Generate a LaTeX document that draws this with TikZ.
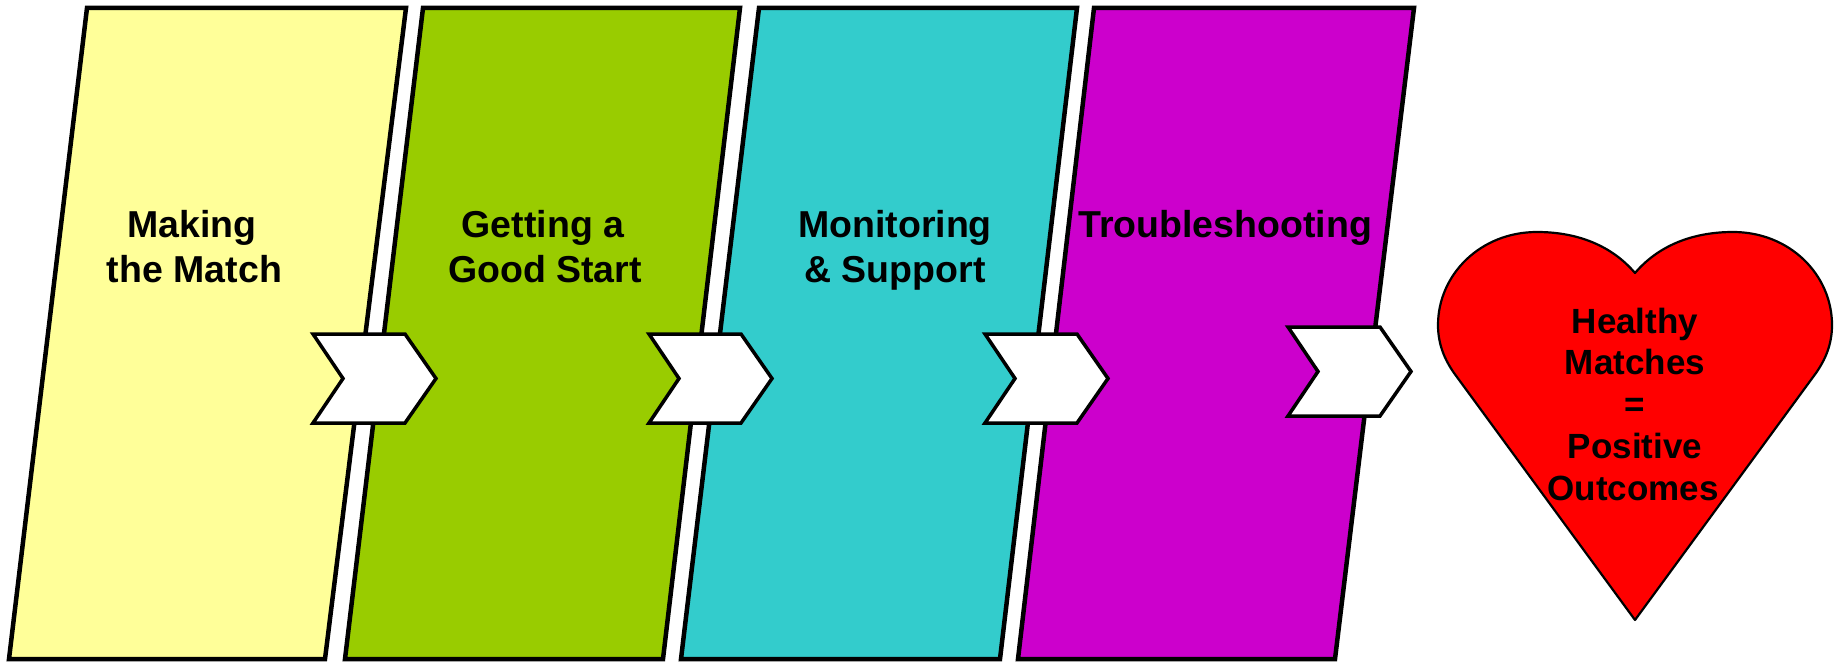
\documentclass[tikz,border=0pt]{standalone}
\usepackage{fontspec}
\setmainfont{Liberation Sans}
\definecolor{stageA}{HTML}{FFFF99}
\definecolor{stageB}{HTML}{99CC00}
\definecolor{stageC}{HTML}{33CCCC}
\definecolor{stageD}{HTML}{CC00CC}
\definecolor{heartred}{HTML}{FF0000}
\begin{document}
\begin{tikzpicture}[x=1pt,y=-1pt,
  stage/.style={draw=black, line width=4.5pt, line join=miter},
  chev/.style={draw=black, fill=white, line width=3.5pt, line join=miter},
  lbl/.style={font=\fontsize{37.5}{44}\selectfont\bfseries, anchor=base, inner sep=0pt},
  hlbl/.style={font=\fontsize{35}{41}\selectfont\bfseries, anchor=base, inner sep=0pt}]

\useasboundingbox (0,0) rectangle (1845,663);

% slanted stage panels
\draw[stage, fill=stageA] (87,8) -- (406,8) -- (325,659) -- (9,659) -- cycle;
\draw[stage, fill=stageB] (423,8) -- (740,8) -- (663,659) -- (345,659) -- cycle;
\draw[stage, fill=stageC] (759,8) -- (1077,8) -- (1000,659) -- (681,659) -- cycle;
\draw[stage, fill=stageD] (1094,8) -- (1414,8) -- (1335,659) -- (1018,659) -- cycle;

% stage titles
\node[lbl] (t1a) at (192,238) {Making};
\node[lbl] (t1b) at (194.5,282) {the Match};
\node[lbl] (t2a) at (543,238) {Getting a};
\node[lbl] (t2b) at (545,282) {Good Start};
\node[lbl] (t3a) at (895,238) {Monitoring};
\node[lbl] (t3b) at (895,282) {\& Support};
\node[lbl] (t4a) at (1225,238) {Troubleshooting};

% chevrons between the stages
\foreach \L/\T in {313/334, 649/334, 985/334, 1288/327} {
  \draw[chev] (\L,\T) -- ++(92,0) -- ++(31,44.5) -- ++(-31,44.5)
    -- ++(-92,0) -- ++(30,-44.5) -- cycle;
}

% heart
\draw[draw=black, fill=heartred, line width=2.2pt, line join=round]
  (1635,273)
  .. controls (1612,246) and (1578,232) .. (1537,232)
  .. controls (1480,232) and (1438,275) .. (1438,325)
  .. controls (1438,345) and (1445,360) .. (1454,373)
  -- (1635,620)
  -- (1816,373)
  .. controls (1825,360) and (1832,345) .. (1832,325)
  .. controls (1832,275) and (1790,232) .. (1733,232)
  .. controls (1692,232) and (1658,246) .. (1635,273) -- cycle;

\node[hlbl] (h1) at (1635,333) {Healthy};
\node[hlbl] (h2) at (1635,374) {Matches};
\node[hlbl] (h3) at (1635,416) {=};
\node[hlbl] (h4) at (1635,458) {Positive};
\node[hlbl] (h5) at (1633,500) {Outcomes};
\end{tikzpicture}
\end{document}
